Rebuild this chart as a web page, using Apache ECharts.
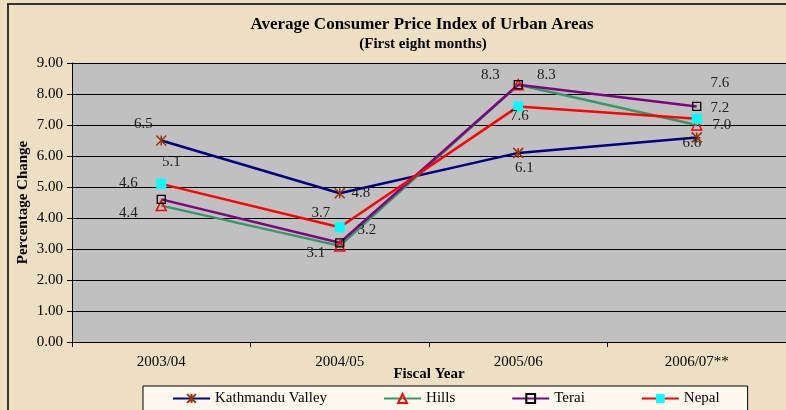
<!DOCTYPE html>
<html><head><meta charset="utf-8">
<script src="https://cdn.jsdelivr.net/npm/echarts@6/dist/echarts.min.js"></script>
<style>html,body{margin:0;padding:0;background:#ECDFC2;}#c{width:786px;height:410px;}</style>
</head><body><div id="c"></div>
<script>
const categories = ['2003/04', '2004/05', '2005/06', '2006/07**'];
const kathmandu = [6.5, 4.8, 6.1, 6.6];
const hills = [4.4, 3.1, 8.3, 7.0];
const terai = [4.6, 3.2, 8.3, 7.6];
const nepal = [5.1, 3.7, 7.6, 7.2];
const yTicks = [0, 1, 2, 3, 4, 5, 6, 7, 8, 9];

// label offsets (pixel nudges, as in the original Excel chart)
const offKathmandu = [[-18, -16], [21, 0], [6, 15], [-5, 6]];
const offHills = [[-33, 7], [-24, 7], [-28, -10], [25, 0]];
const offTerai = [[-33, -16], [27, -13], [28, -10], [23, -23]];
const offNepal = [[10, -22], [-19, -14], [1, 10], [23, -11]];

const serif = '"Liberation Serif", "Times New Roman", serif';

function mk(vals, offs) {
  return vals.map((v, i) => ({ value: v, label: { offset: offs[i] } }));
}
function series(name, vals, offs, lineColor, symbol, size, itemStyle) {
  return {
    name, type: 'line', data: mk(vals, offs),
    symbol, symbolSize: size, showAllSymbol: true,
    lineStyle: { color: lineColor, width: 2.5 },
    itemStyle,
    label: { show: true, position: 'inside', fontFamily: serif, fontSize: 15, color: '#222',
      formatter: p => p.value.toFixed(1) },
    emphasis: { disabled: true },
    z: 3
  };
}

const chart = echarts.init(document.getElementById('c'), null, { renderer: 'canvas' });
chart.setOption({
  animation: false,
  backgroundColor: '#ECDFC2',
  title: [
    { text: 'Average Consumer Price Index of Urban Areas', left: 417, top: 11, textAlign: 'center',
      textStyle: { fontFamily: serif, fontWeight: 'bold', fontSize: 17, color: '#000' } },
    { text: '(First eight months)', left: 418, top: 32, textAlign: 'center',
      textStyle: { fontFamily: serif, fontWeight: 'bold', fontSize: 15, color: '#000' } }
  ],
  graphic: [
    { type: 'rect', shape: { x: 8, y: 4, width: 800, height: 430 }, style: { fill: 'none', stroke: '#333', lineWidth: 2 }, z: 100 }
  ],
  grid: { left: 72, top: 63, width: 720, height: 279, backgroundColor: '#C0C0C0', show: true, borderWidth: 0 },
  legend: {
    left: 143, top: 386, orient: 'horizontal',
    backgroundColor: '#FCF8EE', borderColor: '#000', borderWidth: 1,
    padding: [5, 28, 20, 29], itemGap: 56, itemWidth: 37, itemHeight: 11,
    textStyle: { fontFamily: serif, fontSize: 15, color: '#000' },
    data: ['Kathmandu Valley', 'Hills', 'Terai', 'Nepal']
  },
  xAxis: {
    type: 'category', data: categories, boundaryGap: true,
    axisLine: { lineStyle: { color: '#000', width: 1 } },
    axisTick: { show: true, length: 5, lineStyle: { color: '#000' } },
    axisLabel: { margin: 13, fontFamily: serif, fontSize: 15, color: '#000' },
    name: 'Fiscal Year', nameLocation: 'middle', nameGap: 25, nameMoveOverlap: false,
    nameTextStyle: { fontFamily: serif, fontWeight: 'bold', fontSize: 15, color: '#000' },
    splitLine: { show: false }
  },
  yAxis: {
    type: 'value', min: yTicks[0], max: yTicks[yTicks.length - 1], interval: 1,
    axisLine: { show: true, lineStyle: { color: '#000', width: 1 } },
    axisTick: { show: true, length: 5, lineStyle: { color: '#000' } },
    axisLabel: { margin: 9, fontFamily: serif, fontSize: 15, color: '#000', formatter: v => v.toFixed(2) },
    splitLine: { show: true, lineStyle: { color: '#000', width: 1 } },
    name: 'Percentage Change', nameLocation: 'middle', nameRotate: 90, nameGap: 41, nameMoveOverlap: false,
    nameTextStyle: { fontFamily: serif, fontWeight: 'bold', fontSize: 15, color: '#000' }
  },
  series: [
    series('Kathmandu Valley', kathmandu, offKathmandu, '#000080',
      'path://M0,0L10,10M10,0L0,10M5,0L5,10', 10,
      { color: '#993300', borderColor: '#993300', borderWidth: 1.5 }),
    series('Hills', hills, offHills, '#339966', 'triangle', 10,
      { color: 'rgba(0,0,0,0)', borderColor: '#FF0000', borderWidth: 1.5 }),
    series('Terai', terai, offTerai, '#800080', 'rect', 8,
      { color: 'rgba(0,0,0,0)', borderColor: '#000000', borderWidth: 1.3 }),
    series('Nepal', nepal, offNepal, '#FF0000', 'rect', 10,
      { color: '#00FFFF', borderWidth: 0 })
  ]
});
</script></body></html>
